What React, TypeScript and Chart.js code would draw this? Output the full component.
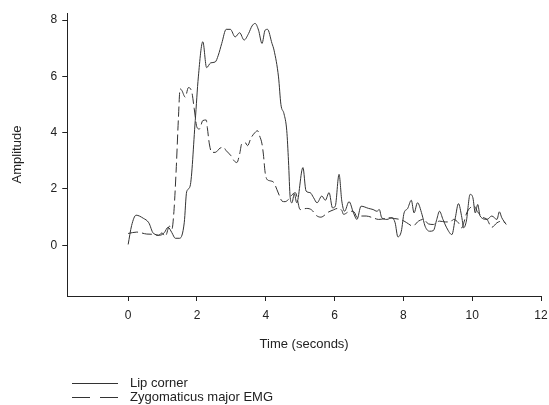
import React, { useEffect, useRef } from "react";
import { Chart, registerables } from "chart.js";

Chart.register(...registerables);

const lipT = [0, 0.1, 0.23, 0.44, 0.6, 0.73, 0.93, 1.05, 1.16, 1.27, 1.37, 1.5, 1.63, 1.7, 1.8, 1.95, 2.04, 2.17, 2.28, 2.4, 2.53, 2.62, 2.72, 2.85, 2.97, 3.11, 3.24, 3.37, 3.5, 3.6, 3.69, 3.79, 3.89, 3.98, 4.05, 4.18, 4.24, 4.37, 4.44, 4.53, 4.61, 4.66, 4.71, 4.76, 4.83, 4.9, 5.08, 5.17, 5.29, 5.39, 5.49, 5.63, 5.73, 5.84, 5.94, 6.02, 6.13, 6.21, 6.29, 6.42, 6.55, 6.65, 6.77, 6.99, 7.12, 7.23, 7.3, 7.37, 7.52, 7.67, 7.76, 7.84, 7.94, 8.02, 8.12, 8.23, 8.31, 8.41, 8.54, 8.63, 8.76, 8.87, 8.97, 9.05, 9.15, 9.26, 9.41, 9.51, 9.6, 9.7, 9.75, 9.83, 9.94, 10.02, 10.09, 10.16, 10.23, 10.43, 10.57, 10.72, 10.79, 10.86, 10.99];
const lipV = [0.03, 0.7, 1.07, 0.96, 0.8, 0.43, 0.36, 0.45, 0.64, 0.45, 0.25, 0.25, 0.8, 1.9, 2.1, 4.43, 5.98, 7.23, 6.31, 6.48, 6.51, 6.75, 7.17, 7.67, 7.67, 7.4, 7.55, 7.29, 7.52, 7.79, 7.88, 7.64, 7.17, 7.64, 7.67, 7.17, 6.93, 5.98, 5.0, 4.67, 4.07, 3.0, 1.69, 1.51, 1.83, 1.51, 2.76, 1.93, 1.87, 1.69, 1.51, 1.75, 1.6, 1.87, 1.33, 1.39, 2.52, 1.57, 1.21, 1.55, 1.15, 0.92, 1.39, 1.31, 1.27, 1.21, 1.27, 0.98, 0.92, 0.98, 0.8, 0.3, 0.5, 1.15, 1.3, 1.6, 1.15, 1.51, 1.1, 0.68, 0.5, 0.52, 0.92, 1.21, 0.92, 0.62, 0.38, 0.98, 1.48, 0.98, 0.62, 0.86, 1.81, 1.69, 1.15, 1.45, 1.04, 0.92, 1.04, 0.92, 1.19, 0.98, 0.74];

const emgT = [0, 0.25, 0.54, 0.73, 0.88, 0.98, 1.08, 1.2, 1.27, 1.33, 1.4, 1.46, 1.51, 1.56, 1.66, 1.75, 1.85, 1.92, 2.0, 2.07, 2.17, 2.27, 2.3, 2.36, 2.43, 2.53, 2.67, 2.77, 2.85, 2.99, 3.08, 3.16, 3.24, 3.3, 3.4, 3.47, 3.57, 3.69, 3.76, 3.82, 3.89, 3.93, 3.98, 4.03, 4.13, 4.24, 4.32, 4.4, 4.47, 4.56, 4.66, 4.73, 4.86, 5.0, 5.19, 5.33, 5.48, 5.6, 5.82, 5.97, 6.08, 6.21, 6.26, 6.45, 6.57, 6.66, 6.79, 6.92, 7.11, 7.28, 7.42, 7.57, 7.75, 7.89, 8.02, 8.15, 8.27, 8.44, 8.58, 8.73, 8.87, 9.05, 9.22, 9.36, 9.46, 9.6, 9.7, 9.77, 9.84, 9.94, 10.05, 10.15, 10.3, 10.43, 10.57, 10.72, 10.86, 10.96];
const emgV = [0.42, 0.47, 0.4, 0.39, 0.35, 0.44, 0.32, 0.68, 0.57, 1.2, 2.8, 4.5, 5.56, 5.5, 5.26, 5.6, 5.44, 4.85, 4.19, 4.13, 4.43, 4.45, 4.19, 3.6, 3.3, 3.3, 3.45, 3.48, 3.36, 3.18, 3.0, 2.94, 3.24, 3.6, 3.65, 3.54, 3.81, 4.01, 4.07, 3.89, 3.6, 3.24, 2.6, 2.35, 2.29, 2.22, 1.99, 1.75, 1.57, 1.55, 1.63, 1.75, 1.87, 1.27, 1.31, 1.26, 1.05, 1.0, 1.18, 1.26, 1.31, 1.24, 1.1, 1.21, 1.18, 0.98, 1.04, 1.04, 0.98, 0.92, 0.94, 0.98, 0.95, 0.92, 0.86, 0.76, 0.68, 0.86, 0.92, 0.76, 0.74, 0.86, 0.83, 0.83, 0.92, 0.8, 0.62, 0.86, 1.15, 1.33, 1.4, 1.2, 1.0, 0.92, 0.64, 0.8, 0.86, 0.8];

const xTicks = [0, 2, 4, 6, 8, 10, 12];
const yTicks = [0, 2, 4, 6, 8];
const seriesNames = ["Lip corner", "Zygomaticus major EMG"];

const FONT = "'Liberation Sans', Arial, Helvetica, sans-serif";
const INK = "#222";

const legendPlugin = {
  id: "customLegend",
  afterDraw(chart: any) {
    const ctx = chart.ctx;
    ctx.save();
    ctx.strokeStyle = "#333";
    ctx.lineWidth = 1;
    ctx.fillStyle = INK;
    ctx.font = `13px ${FONT}`;
    ctx.textBaseline = "middle";
    const rows = [383, 397];
    seriesNames.forEach((name, i) => {
      const y = rows[i] + 0.5;
      ctx.beginPath();
      ctx.setLineDash(i === 0 ? [] : [18, 10]);
      ctx.moveTo(72, y);
      ctx.lineTo(118, y);
      ctx.stroke();
      ctx.setLineDash([]);
      ctx.fillText(name, 130, rows[i]);
    });
    ctx.restore();
  },
};

export default function App() {
  const ref = useRef<HTMLCanvasElement | null>(null);
  useEffect(() => {
    if (!ref.current) return;
    const chart = new Chart(ref.current, {
      type: "line",
      data: {
        datasets: [
          {
            label: seriesNames[0],
            data: lipT.map((t, i) => ({ x: t, y: lipV[i] })),
            borderColor: "#333",
            borderWidth: 1,
            pointRadius: 0,
            cubicInterpolationMode: "monotone",
            fill: false,
          },
          {
            label: seriesNames[1],
            data: emgT.map((t, i) => ({ x: t, y: emgV[i] })),
            borderColor: "#333",
            borderWidth: 1,
            borderDash: [10, 4],
            pointRadius: 0,
            cubicInterpolationMode: "monotone",
            fill: false,
          },
        ],
      },
      options: {
        animation: false,
        responsive: false,
        maintainAspectRatio: false,
        layout: { padding: { top: 13, left: 10, right: 8, bottom: 51 } },
        plugins: { legend: { display: false }, tooltip: { enabled: false } },
        scales: {
          x: {
            type: "linear",
            min: -1.77,
            max: 12,
            afterBuildTicks: (s: any) => {
              s.ticks = xTicks.map((v) => ({ value: v }));
            },
            afterFit: (s: any) => {
              s.paddingRight = 0;
            },
            grid: { drawOnChartArea: false, color: INK, tickLength: 5 },
            border: { color: INK, width: 1 },
            ticks: { color: INK, font: { family: FONT, size: 12 }, padding: 7, maxRotation: 0 },
            title: {
              display: true,
              text: "Time (seconds)",
              color: INK,
              font: { family: FONT, size: 13 },
              padding: { top: 7, bottom: 2 },
            },
          },
          y: {
            type: "linear",
            min: -1.8,
            max: 8.25,
            afterBuildTicks: (s: any) => {
              s.ticks = yTicks.map((v) => ({ value: v }));
            },
            grid: { drawOnChartArea: false, color: INK, tickLength: 5 },
            border: { color: INK, width: 1 },
            ticks: { color: INK, font: { family: FONT, size: 12 }, padding: 5 },
            title: {
              display: true,
              text: "Amplitude",
              color: INK,
              font: { family: FONT, size: 13 },
              padding: { top: 0, bottom: 20 },
            },
          },
        },
      },
      plugins: [legendPlugin],
    } as any);
    return () => chart.destroy();
  }, []);
  return (
    <div style={{ position: "fixed", left: 0, top: 0, width: 549, height: 405, background: "#fff" }}>
      <canvas ref={ref} width={549} height={405} style={{ display: "block", width: 549, height: 405 }} />
    </div>
  );
}
